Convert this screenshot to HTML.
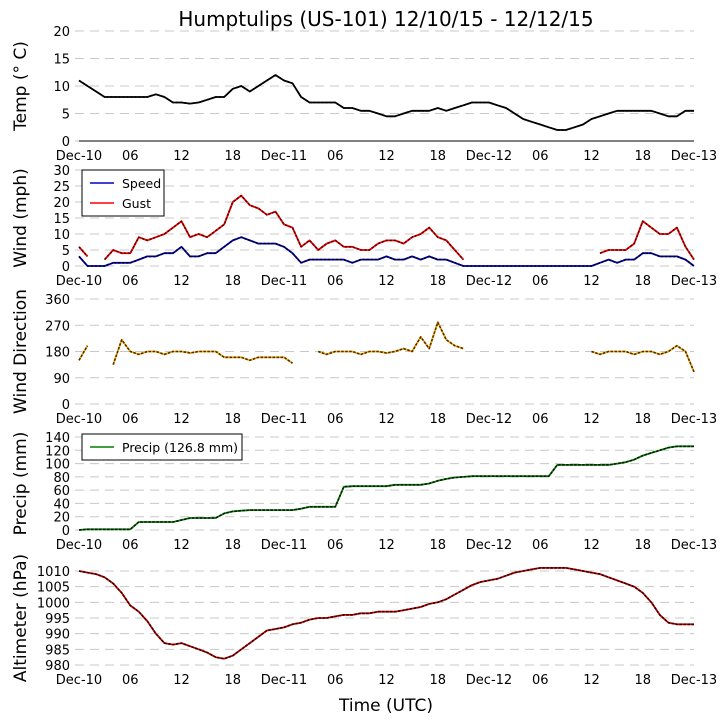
<!DOCTYPE html>
<html><head><meta charset="utf-8"><style>
body{margin:0;background:#fff;}
svg{display:block;font-family:"DejaVu Sans","Liberation Sans",sans-serif;}
</style></head><body>
<svg id="chart" width="725" height="725" viewBox="0 0 725 725">
<text x="386" y="26" font-size="20" text-anchor="middle">Humptulips (US-101) 12/10/15 - 12/12/15</text>
<text x="386" y="711" font-size="17" text-anchor="middle">Time (UTC)</text>
</svg>
<script>
const hours = Array.from({length:73},(_,i)=>i);
const xTickLabels = ["Dec-10","06","12","18","Dec-11","06","12","18","Dec-12","06","12","18","Dec-13"];
const tempVals = [11,10,9,8,8,8,8,8,8,8.5,8,7,7,6.8,7,7.5,8,8,9.5,10,9,10,11,12,11,10.5,8,7,7,7,7,6,6,5.5,5.5,5,4.5,4.5,5,5.5,5.5,5.5,6,5.5,6,6.5,7,7,7,6.5,6,5,4,3.5,3,2.5,2,2,2.5,3,4,4.5,5,5.5,5.5,5.5,5.5,5.5,5,4.5,4.5,5.5,5.5];
const gustVals = [6,3,null,2,5,4,4,9,8,9,10,12,14,9,10,9,11,13,20,22,19,18,16,17,13,12,6,8,5,7,8,6,6,5,5,7,8,8,7,9,10,12,9,8,5,2,null,null,null,null,null,null,null,null,null,null,null,null,null,null,null,4,5,5,5,7,14,12,10,10,12,6,2];
const speedVals = [3,0,0,0,1,1,1,2,3,3,4,4,6,3,3,4,4,6,8,9,8,7,7,7,6,4,1,2,2,2,2,2,1,2,2,2,3,2,2,3,2,3,2,2,1,0,0,0,0,0,0,0,0,0,0,0,0,0,0,0,0,1,2,1,2,2,4,4,3,3,3,2,0];
const dirVals = [150,200,null,null,135,220,180,170,180,180,170,180,180,175,180,180,180,160,160,160,150,160,160,160,160,140,null,null,180,170,180,180,180,170,180,180,175,180,190,180,230,190,280,220,200,190,null,null,null,null,null,null,null,null,null,null,null,null,null,null,180,170,180,180,180,170,180,180,170,180,200,180,110];
const precipVals = [0,1,1,1,1,1,1,12,12,12,12,12,15,18,18,18,18,25,28,29,30,30,30,30,30,30,32,35,35,35,35,65,66,66,66,66,66,68,68,68,68,70,74,77,79,80,81,81,81,81,81,81,81,81,81,81,98,98,98,98,98,98,98,100,102,106,112,116,120,124,126,126,126];
const altVals = [1010,1009.5,1009,1008,1006,1003,999,997,994,990,987,986.5,987,986,985,984,982.5,982,983,985,987,989,991,991.5,992,993,993.5,994.5,995,995,995.5,996,996,996.5,996.5,997,997,997,997.5,998,998.5,999.5,1000,1001,1002.5,1004,1005.5,1006.5,1007,1007.5,1008.5,1009.5,1010,1010.5,1011,1011,1011,1011,1010.5,1010,1009.5,1009,1008,1007,1006,1005,1003,1000,996,993.5,993,993,993];

const NS="http://www.w3.org/2000/svg";
const svg=document.getElementById('chart');
const X0=79,X1=694;
const xs=h=>X0+(X1-X0)*h/72;
function mk(tag,attrs){const e=document.createElementNS(NS,tag);for(const k in attrs)e.setAttribute(k,attrs[k]);svg.appendChild(e);return e;}
function panel(cfg){
  const ys=v=>cfg.yBot-(cfg.yBot-cfg.yTop)*(v-cfg.min)/(cfg.max-cfg.min);
  cfg.ticks.forEach(t=>{
    const g=mk('line',{x1:X0-4,x2:X1,y1:ys(t),y2:ys(t),stroke:'#c8c8c8','stroke-width':1,'stroke-dasharray':'9,6'});
    
    
    const tl=mk('text',{x:70,y:ys(t)+5,'font-size':13,'text-anchor':'end'});
    tl.textContent=t;
    
    
  });
  xTickLabels.forEach((l,i)=>{
    const t=mk('text',{x:xs(i*6),y:cfg.yBot+19,'font-size':13,'text-anchor':'middle'});
    t.textContent=l;
    
    
  });
  const yl=mk('text',{x:0,y:0,'font-size':17,'text-anchor':'middle',transform:`translate(26,${(cfg.yTop+cfg.yBot)/2}) rotate(-90)`});
  yl.textContent=cfg.label;
  
  
  if(cfg.spine){const s=mk('line',{x1:X0,x2:X1,y1:cfg.yBot,y2:cfg.yBot,stroke:'#000','stroke-width':1});
    
    }
  cfg.series.forEach(se=>{
    let d='',pen=false;
    se.vals.forEach((v,i)=>{
      if(v===null){pen=false;return;}
      d+=(pen?'L':'M')+xs(hours[i]).toFixed(1)+','+ys(v).toFixed(1);pen=true;
    });
    const p=mk('path',{d:d,fill:'none',stroke:se.color,'stroke-width':1.8,'stroke-linejoin':'round'});
    
    
    const m=mk('path',{d:d,fill:'none',stroke:se.marker,'stroke-width':1.6,'stroke-dasharray':'2.5,1.5','stroke-linejoin':'round'});
    
    
  });
}
panel({name:'temp',label:'Temp (° C)',yTop:31,yBot:141,min:0,max:20,ticks:[0,5,10,15,20],spine:true,
  series:[{name:'temp',vals:tempVals,color:'#000',marker:'#000'}]});
panel({name:'wind',label:'Wind (mph)',yTop:170,yBot:266,min:0,max:30,ticks:[0,5,10,15,20,25,30],
  series:[{name:'gust',vals:gustVals,color:'#ff0000',marker:'#600'},{name:'speed',vals:speedVals,color:'#0000cc',marker:'#002'}]});
panel({name:'direction',label:'Wind Direction',yTop:299,yBot:404,min:0,max:360,ticks:[0,90,180,270,360],
  series:[{name:'direction',vals:dirVals,color:'#ffa500',marker:'#4a3000'}]});
panel({name:'precip',label:'Precip (mm)',yTop:437,yBot:530,min:0,max:140,ticks:[0,20,40,60,80,100,120,140],
  series:[{name:'precip',vals:precipVals,color:'#008000',marker:'#0a1a0a'}]});
panel({name:'altimeter',label:'Altimeter (hPa)',yTop:571,yBot:665,min:980,max:1010,ticks:[980,985,990,995,1000,1005,1010],
  series:[{name:'altimeter',vals:altVals,color:'#cc0000',marker:'#300'}]});

function legend(name,x,y,w,entries){
  const r=mk('rect',{x:x,y:y,width:w,height:entries.length*20+6,fill:'#fff',stroke:'#000','stroke-width':1});
  
  
  entries.forEach((e,i)=>{
    const cy=y+13+i*20;
    const l=mk('line',{x1:x+8,x2:x+32,y1:cy,y2:cy,stroke:e.color,'stroke-width':1.6});
    
    
    const t=mk('text',{x:x+40,y:cy+5,'font-size':12.5});
    t.textContent=e.label;
    
    
  });
}
legend('wind-legend',82,170,82,[{label:'Speed',color:'#0000cc'},{label:'Gust',color:'#ff0000'}]);
legend('precip-legend',82,434,160,[{label:'Precip (126.8 mm)',color:'#008000'}]);
</script>
</body></html>
